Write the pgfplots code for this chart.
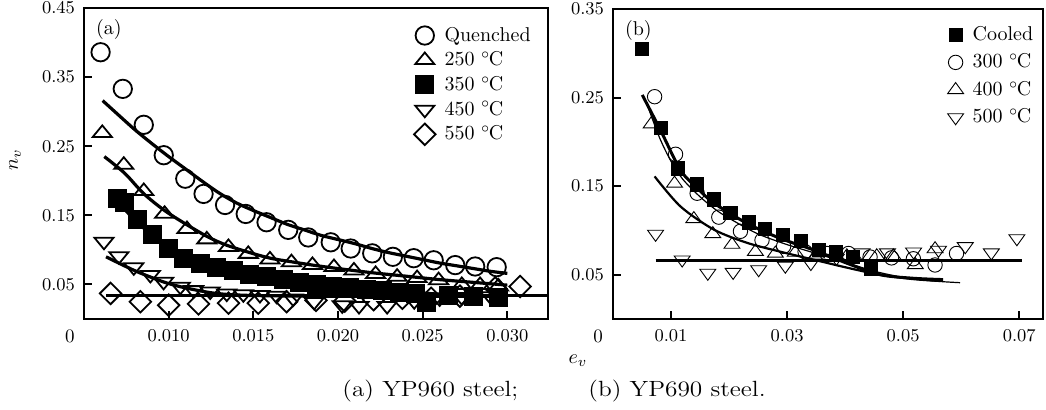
\documentclass[border=0pt]{standalone}
\usepackage{fontspec}
\usepackage{graphicx}
\usepackage{pgfplots}
\pgfplotsset{compat=1.18}

\newcommand{\degC}{${}^{\circ}$\kern-0.8pt C}
\newcommand{\captext}[1]{\scalebox{1.15}[1]{#1}}
\tikzset{capfont/.style={font=\fontsize{11}{13}\selectfont, anchor=west, inner sep=0pt}}

\pgfplotsset{
  panel/.style={
    scale only axis, tick align=inside, xtick pos=bottom, ytick pos=left,
    major tick length=4pt,
    axis line style={line width=1pt},
    every tick/.style={black, line width=1pt},
    scaled ticks=false, ymin=0, clip=false,
    tick label style={font=\fontsize{9.5}{11}\selectfont},
    xticklabel style={yshift=-2pt},
    yticklabel style={xshift=-1pt, /pgf/number format/.cd, fixed, fixed zerofill, precision=2},
    legend cell align=left,
    legend style={draw=none, fill=none, font=\fontsize{10}{12}\selectfont,
      inner sep=0pt, nodes={inner sep=1.5pt},
      /tikz/every odd column/.append style={column sep=3pt}},
  },
  fitA/.style={no markers, black, line width=1.6pt, smooth, forget plot},
  fitB/.style={no markers, black, smooth, forget plot},
  % panel (a) marks
  mA/.style={only marks, black, mark options={line width=0.9pt, black}},
  qA/.style={mA, mark=o, mark size=4.6pt},
  tA/.style={mA, mark=triangle, mark size=5.5pt, mark options={line width=0.9pt, yscale=0.7}},
  sA/.style={mA, mark=square*, mark size=4.3pt},
  vA/.style={mA, mark=triangle, mark size=5.5pt, mark options={line width=0.9pt, rotate=180, yscale=0.7}},
  dA/.style={mA, mark=square, mark size=3.8pt, mark options={line width=0.9pt, rotate=45}},
  % panel (b) marks
  mB/.style={only marks, black, mark options={line width=0.45pt, black}},
  sB/.style={mB, mark=square*, mark size=3.3pt},
  oB/.style={mB, mark=o, mark size=3.6pt},
  tB/.style={mB, mark=triangle, mark size=4.6pt, mark options={line width=0.45pt, yscale=0.8}},
  vB/.style={mB, mark=triangle, mark size=4.6pt, mark options={line width=0.45pt, rotate=180, yscale=0.8}},
}

\begin{document}
\begin{tikzpicture}
% ---------------- (a) YP960 ----------------
\begin{axis}[panel, name=A, at={(0,0)}, anchor=south west,
  width=232pt, height=155.5pt,
  xmin=0.005, xmax=0.0324, ymax=0.45,
  xtick={0.010,0.015,0.020,0.025,0.030},
  xticklabel style={/pgf/number format/.cd, fixed, fixed zerofill, precision=3},
  ytick={0.05,0.15,0.25,0.35,0.45},
  legend style={at={(0.97,0.95)}, anchor=north east, row sep=0.8pt},
]
\addplot[qA] coordinates {
(0.00598,0.386) (0.00729,0.333) (0.00853,0.281) (0.00971,0.237) (0.01098,0.203)
(0.01206,0.181) (0.01333,0.165) (0.01455,0.152) (0.01578,0.140) (0.01706,0.129)
(0.01824,0.118) (0.01957,0.111) (0.02075,0.102) (0.02202,0.095) (0.02324,0.090)
(0.02447,0.088) (0.02565,0.085) (0.02692,0.078) (0.02810,0.076) (0.02937,0.075)};
\addplot[tA] coordinates {
(0.00608,0.269) (0.00735,0.223) (0.00853,0.185) (0.00976,0.152) (0.01108,0.130)
(0.01225,0.115) (0.01353,0.104) (0.01470,0.094) (0.01598,0.086) (0.01725,0.082)
(0.01849,0.078) (0.01976,0.075) (0.02094,0.070) (0.02222,0.065) (0.02349,0.061)
(0.02467,0.059) (0.02594,0.056) (0.02731,0.049) (0.02839,0.049) (0.02947,0.047)};
\addplot[sA] coordinates {
(0.00696,0.175) (0.00740,0.168) (0.00814,0.144) (0.00902,0.122) (0.01000,0.102)
(0.01088,0.088) (0.01186,0.081) (0.01284,0.075) (0.01382,0.070) (0.01480,0.065)
(0.01578,0.061) (0.01676,0.057) (0.01774,0.053) (0.01872,0.050) (0.01970,0.047)
(0.02068,0.045) (0.02166,0.043) (0.02264,0.041) (0.02362,0.039) (0.02460,0.037)
(0.02524,0.024) (0.02650,0.034) (0.02800,0.033) (0.02950,0.031)};
\addplot[vA] coordinates {
(0.00618,0.112) (0.00706,0.091) (0.00794,0.075) (0.00892,0.064) (0.00970,0.054)
(0.01069,0.047) (0.01147,0.042) (0.01245,0.040) (0.01343,0.037) (0.01441,0.036)
(0.01539,0.035) (0.01637,0.034) (0.01735,0.030) (0.01859,0.025) (0.02025,0.020)
(0.02124,0.019) (0.02290,0.019) (0.02450,0.026) (0.02600,0.030) (0.02730,0.032)
(0.02900,0.033)};
\addplot[dA] coordinates {
(0.00657,0.037) (0.00833,0.025) (0.01000,0.020) (0.01176,0.022) (0.01353,0.023)
(0.01529,0.023) (0.01696,0.025) (0.01870,0.027) (0.02040,0.026) (0.02210,0.028)
(0.02380,0.030) (0.02550,0.030) (0.02720,0.033) (0.02928,0.045) (0.03075,0.047)};
\legend{Quenched, 250 \degC, 350 \degC, 450 \degC, 550 \degC}
% fitted curves
\addplot[fitA] coordinates {
(0.0061,0.316) (0.0070,0.296) (0.0080,0.274) (0.0090,0.254) (0.0100,0.235)
(0.0110,0.217) (0.0120,0.199) (0.0130,0.182) (0.0140,0.168) (0.0150,0.157)
(0.0160,0.147) (0.0170,0.137) (0.0180,0.129) (0.0190,0.121) (0.0200,0.115)
(0.0210,0.109) (0.0220,0.102) (0.0230,0.096) (0.0240,0.091) (0.0250,0.086)
(0.0260,0.081) (0.0270,0.077) (0.0280,0.073) (0.0290,0.069) (0.0300,0.066)};
\addplot[fitA] coordinates {
(0.0062,0.235) (0.0074,0.211) (0.0085,0.182) (0.0097,0.158) (0.0109,0.139)
(0.0123,0.119) (0.0134,0.107) (0.0148,0.096) (0.0160,0.088) (0.0172,0.083)
(0.0185,0.078) (0.0200,0.073) (0.0220,0.067) (0.0240,0.062) (0.0260,0.057)
(0.0280,0.053) (0.0300,0.049)};
\addplot[fitA] coordinates {
(0.0070,0.170) (0.0080,0.143) (0.0090,0.122) (0.0100,0.104) (0.0110,0.090)
(0.0120,0.080) (0.0130,0.073) (0.0140,0.067) (0.0150,0.062) (0.0160,0.058)
(0.0180,0.051) (0.0200,0.046) (0.0220,0.042) (0.0240,0.039) (0.0260,0.036)
(0.0280,0.034) (0.0300,0.032)};
\addplot[fitA] coordinates {
(0.0063,0.090) (0.0079,0.071) (0.0090,0.060) (0.0099,0.052) (0.0110,0.045)
(0.0128,0.037) (0.0150,0.034) (0.0200,0.033) (0.0300,0.033)};
\addplot[fitA, sharp plot] coordinates {(0.0063,0.034) (0.0324,0.034)};
\end{axis}

% ---------------- (b) YP690 ----------------
\begin{axis}[panel, name=B, at={(264.5pt,0)}, anchor=south west,
  width=215pt, height=155pt,
  xmin=0, xmax=0.0741, ymax=0.35,
  xtick={0.01,0.03,0.05,0.07},
  xticklabel style={/pgf/number format/.cd, fixed, fixed zerofill, precision=2},
  ytick={0.05,0.15,0.25,0.35},
  legend style={at={(0.985,0.955)}, anchor=north east, row sep=2.2pt},
]
\addplot[sB] coordinates {
(0.00504,0.305) (0.00820,0.216) (0.01118,0.170) (0.01440,0.152) (0.01737,0.135)
(0.02024,0.120) (0.02339,0.109) (0.02625,0.102) (0.02929,0.095) (0.03239,0.088)
(0.03543,0.078) (0.03846,0.076) (0.04133,0.070) (0.04443,0.057)};
\addplot[oB] coordinates {
(0.00717,0.251) (0.01078,0.186) (0.01450,0.142) (0.01823,0.115) (0.02196,0.099)
(0.02568,0.089) (0.02940,0.082) (0.03310,0.076) (0.03686,0.074) (0.04058,0.074)
(0.04430,0.070) (0.04800,0.069) (0.05176,0.068) (0.05550,0.061) (0.05920,0.074)};
\addplot[tB] coordinates {
(0.00659,0.220) (0.01060,0.153) (0.01393,0.113) (0.01720,0.096) (0.02050,0.084)
(0.02454,0.076) (0.02798,0.074) (0.03140,0.075) (0.03510,0.073) (0.04030,0.071)
(0.04545,0.071) (0.04830,0.071) (0.05210,0.061) (0.05550,0.079)};
\addplot[vB] coordinates {
(0.00734,0.096) (0.01192,0.067) (0.01634,0.052) (0.02070,0.053) (0.02510,0.056)
(0.02970,0.060) (0.03410,0.063) (0.03850,0.069) (0.04290,0.075) (0.04730,0.075)
(0.05180,0.076) (0.05610,0.078) (0.06070,0.082) (0.06520,0.075) (0.06960,0.091)};
\legend{Cooled, 300 \degC, 400 \degC, 500 \degC}
% fitted curves
\addplot[fitB, line width=1.5pt] coordinates {
(0.00504,0.253) (0.0082,0.213) (0.01164,0.168) (0.0145,0.148) (0.01737,0.131)
(0.0231,0.108) (0.02884,0.091) (0.03457,0.078) (0.0403,0.063) (0.04603,0.050)
(0.05176,0.046) (0.0569,0.0445)};
\addplot[fitB, line width=0.6pt] coordinates {
(0.0060,0.240) (0.0080,0.205) (0.0100,0.178) (0.0120,0.158) (0.0150,0.138)
(0.0180,0.122) (0.0210,0.110) (0.0250,0.096) (0.0300,0.084) (0.0350,0.074)
(0.0400,0.064) (0.0450,0.054) (0.0500,0.047) (0.0550,0.043) (0.0598,0.041)};
\addplot[fitB, line width=1.1pt] coordinates {
(0.00717,0.161) (0.01164,0.127) (0.01737,0.101) (0.0231,0.086) (0.02884,0.076)
(0.03457,0.067) (0.0403,0.058) (0.046,0.050) (0.0518,0.045) (0.0563,0.043)};
\addplot[fitB, line width=1.5pt, sharp plot] coordinates {(0.00734,0.066) (0.0704,0.066)};
\end{axis}

% labels and caption
\node[anchor=north west, font=\fontsize{10}{12}\selectfont] at ([xshift=2.5pt,yshift=-2pt]A.north west) {(a)};
\node[anchor=north west, font=\fontsize{10}{12}\selectfont] at ([xshift=2.5pt,yshift=-2pt]B.north west) {(b)};
\node[anchor=north, inner sep=0pt, font=\fontsize{9.5}{11}\selectfont] at ([xshift=-7pt,yshift=-5.3pt]A.south west) {0};
\node[anchor=north, inner sep=0pt, font=\fontsize{9.5}{11}\selectfont] at ([xshift=-7.5pt,yshift=-5.3pt]B.south west) {0};
\node[rotate=90, font=\fontsize{10}{12}\selectfont] at (-34.5pt,79.5pt) {$n_v$};
\node[font=\fontsize{10}{12}\selectfont] at (247pt,-21pt) {$e_v$};
\node[capfont] at (129pt,-36pt) {\captext{(a) YP960 steel;}};
\node[capfont] at (252pt,-36pt) {\captext{(b) YP690 steel.}};
\pgfresetboundingbox
\useasboundingbox (-42pt,-45pt) rectangle (481pt,159.5pt);
\end{tikzpicture}
\end{document}
